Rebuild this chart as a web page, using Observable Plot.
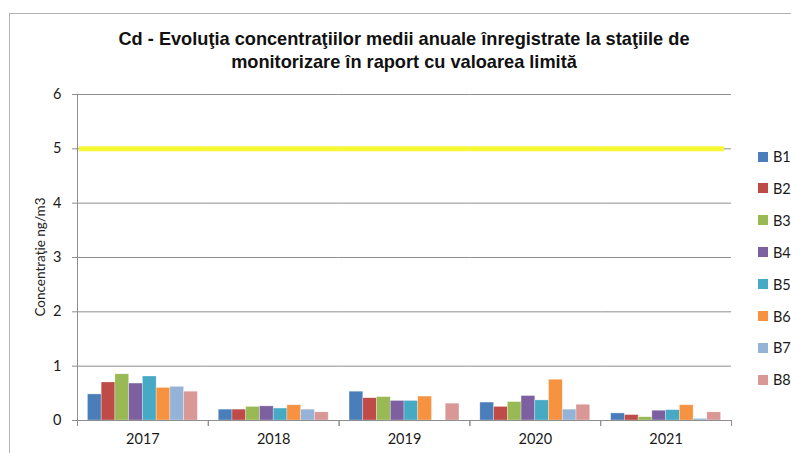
<!DOCTYPE html>
<html>
<head>
<meta charset="utf-8">
<script src="https://cdn.jsdelivr.net/npm/d3@7"></script>
<script src="https://cdn.jsdelivr.net/npm/@observablehq/plot@0.6"></script>
<style>
  html, body { margin: 0; padding: 0; background: #fff; }
  #wrap { position: relative; width: 791px; height: 453px; overflow: hidden; }
  #border { position: absolute; left: 9px; top: 13px; width: 900px; height: 600px; border: 1px solid #b4b4b4; box-sizing: border-box; }
  #title { position: absolute; left: 0; top: 28px; width: 808px; text-align: center;
           font-family: "Liberation Sans", Arial, sans-serif; font-weight: bold; font-size: 18.2px; line-height: 23px; color: #111; }
  #chart { position: absolute; left: 0; top: 80px; }
  #ylabel { position: absolute; left: 40px; top: 257px; transform: translate(-50%, -50%) rotate(-90deg);
            white-space: nowrap; font-family: Lato, sans-serif; font-size: 13.5px; color: #222; }
  #legend { position: absolute; left: 758px; top: 0; font-family: Lato, sans-serif; font-size: 14.5px; color: #1a1a1a; }
  .li { position: absolute; left: 0; white-space: nowrap; display: flex; align-items: center; }
  .sw { width: 10px; height: 10px; margin-right: 5px; }
</style>
</head>
<body>
<div id="wrap">
  <div id="border"></div>
  <div id="title">Cd - Evoluţia concentraţiilor medii anuale înregistrate la staţiile de<br>monitorizare în raport cu valoarea limită</div>
  <div id="chart"></div>
  <div id="ylabel"></div>
  <div id="legend"></div>
</div>
<script>
const years = ["2017", "2018", "2019", "2020", "2021"];
const stations = ["B1", "B2", "B3", "B4", "B5", "B6", "B7", "B8"];
const B1 = [0.48, 0.20, 0.53, 0.33, 0.13];
const B2 = [0.70, 0.20, 0.41, 0.25, 0.10];
const B3 = [0.85, 0.25, 0.43, 0.34, 0.06];
const B4 = [0.68, 0.26, 0.36, 0.45, 0.18];
const B5 = [0.81, 0.22, 0.36, 0.37, 0.19];
const B6 = [0.60, 0.28, 0.44, 0.75, 0.28];
const B7 = [0.62, 0.20, null, 0.20, 0.03];
const B8 = [0.53, 0.15, 0.31, 0.29, 0.15];
const limitValue = 5;
const yTicks = [0, 1, 2, 3, 4, 5, 6];
const colors = ["#4a7ebb", "#be4b48", "#98b954", "#7d60a0", "#46aac5", "#f69240", "#95b3d7", "#d99795"];
const yLabel = "Concentraţie ng/m3";

const series = [B1, B2, B3, B4, B5, B6, B7, B8];
const data = [];
years.forEach((yr, i) => stations.forEach((s, j) => {
  const v = series[j][i];
  if (v != null) data.push({year: yr, station: s, value: v});
}));

const gridRows = [];
years.forEach(yr => yTicks.forEach(t => { if (t > 0) gridRows.push({year: yr, v: t}); }));
const baseRows = years.map(yr => ({year: yr, v: 0}));
const limitFirst = [{year: years[0], v: limitValue}];
const limitMid = years.slice(1, -1).map(yr => ({year: yr, v: limitValue}));
const limitLast = [{year: years[years.length - 1], v: limitValue}];

const W = 791, H = 373, mT = 14, mB = 33, mL = 77, mR = 60;
const innerH = H - mT - mB;
const gray = "#8e8e8e";
const yellow = "#f8f832";
const textColor = "#1a1a1a";

const chart = Plot.plot({
  width: W, height: H,
  marginTop: mT, marginBottom: mB, marginLeft: mL, marginRight: mR,
  style: {fontFamily: "Lato, sans-serif", fontSize: "14.5px", color: textColor, background: "transparent"},
  fx: {domain: years, padding: 0, label: null, round: false},
  x: {domain: stations, paddingInner: 0, paddingOuter: 0.76, axis: null, round: false},
  y: {domain: [0, 6], label: null},
  color: {domain: stations, range: colors},
  marks: [
    Plot.ruleY(gridRows, {fx: "year", y: "v", stroke: gray, strokeWidth: 1}),
    Plot.barY(data, {fx: "year", x: "station", y: "value", fill: "station", stroke: "#fff", strokeOpacity: 0.5, strokeWidth: 0.6}),
    Plot.ruleY(limitFirst, {fx: "year", y: "v", stroke: yellow, strokeWidth: 5, insetLeft: 2}),
    Plot.ruleY(limitMid, {fx: "year", y: "v", stroke: yellow, strokeWidth: 5}),
    Plot.ruleY(limitLast, {fx: "year", y: "v", stroke: yellow, strokeWidth: 5, insetRight: 7}),
    Plot.ruleY(baseRows, {fx: "year", y: "v", stroke: gray}),
    Plot.frame({anchor: "left", facet: "super", stroke: gray, insetBottom: -5}),
    Plot.frame({anchor: "left", stroke: gray, insetTop: innerH, insetBottom: -5}),
    Plot.frame({anchor: "right", stroke: gray, insetTop: innerH, insetBottom: -5}),
    Plot.axisY(yTicks, {tickSize: 5, tickPadding: 11, label: null, tickFormat: d3.format("d"), stroke: gray, fill: textColor, fontSize: 14.5}),
    Plot.axisFx({anchor: "bottom", tickSize: 0, tickPadding: 13, label: null, fill: textColor, fontSize: 14.5})
  ]
});
document.getElementById("chart").appendChild(chart);
document.getElementById("ylabel").textContent = yLabel;

const legend = document.getElementById("legend");
stations.forEach((s, j) => {
  const item = document.createElement("div");
  item.className = "li";
  item.style.top = (148 + j * 31.9) + "px";
  item.innerHTML = `<span class="sw" style="background:${colors[j]}"></span><span>${s}</span>`;
  legend.appendChild(item);
});
</script>
</body>
</html>
